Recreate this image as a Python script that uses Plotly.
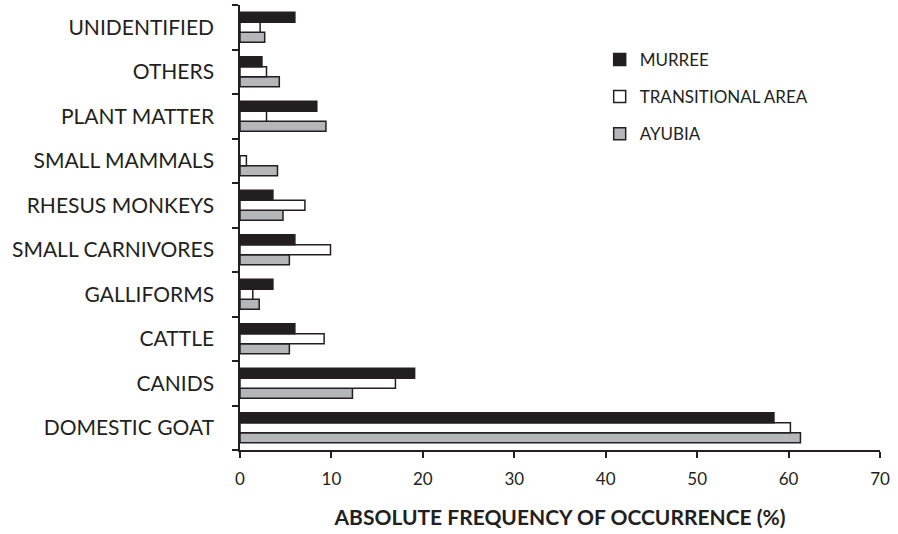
import plotly.graph_objects as go

# Diet categories, listed from the bottom of the chart to the top
categories = [
    "DOMESTIC GOAT", "CANIDS", "CATTLE", "GALLIFORMS", "SMALL CARNIVORES",
    "RHESUS MONKEYS", "SMALL MAMMALS", "PLANT MATTER", "OTHERS", "UNIDENTIFIED",
]

# Absolute frequency of occurrence (%) per study area (None = not recorded)
murree = [58.4, 19.1, 6.0, 3.6, 6.0, 3.6, None, 8.4, 2.4, 6.0]
transitional = [60.2, 17.0, 9.2, 1.4, 9.9, 7.1, 0.7, 2.9, 2.9, 2.2]
ayubia = [61.3, 12.3, 5.4, 2.1, 5.4, 4.7, 4.1, 9.4, 4.3, 2.7]

x_ticks = [0, 10, 20, 30, 40, 50, 60, 70]

DARK = "#231f20"
GREY = "#b5b6b9"
FONT = "Lato"

fig = go.Figure()

# Plotly stacks grouped horizontal bars bottom-up, so Ayubia goes first
series = [
    ("AYUBIA", ayubia, GREY, 3),
    ("TRANSITIONAL AREA", transitional, "#ffffff", 2),
    ("MURREE", murree, DARK, 1),
]
for name, vals, color, rank in series:
    fig.add_trace(go.Bar(
        y=categories, x=vals, name=name, orientation="h",
        marker=dict(color=color, line=dict(color=DARK, width=1.5)),
        legendgroup=name, legendrank=rank,
    ))

fig.update_layout(
    width=898, height=534,
    margin=dict(l=240, r=18, t=5, b=84),
    paper_bgcolor="white", plot_bgcolor="white",
    barmode="group", bargap=0.33, bargroupgap=0,
    font=dict(family=FONT, color=DARK),
    showlegend=True,
    legend=dict(
        x=0.562, y=0.917, xanchor="left", yanchor="top",
        font=dict(family=FONT, size=17, color=DARK),
        traceorder="grouped", tracegroupgap=12,
        itemwidth=30, bgcolor="rgba(0,0,0,0)",
    ),
    xaxis=dict(
        range=[0, 70], tickvals=x_ticks,
        showline=True, linecolor=DARK, linewidth=1.5,
        ticks="outside", ticklen=6, tickcolor=DARK, tickwidth=1.5,
        ticklabelstandoff=7,
        showgrid=False, zeroline=False,
        tickfont=dict(family=FONT, size=17, color=DARK),
        title=dict(text="<b>ABSOLUTE FREQUENCY OF OCCURRENCE (%)</b>",
                   font=dict(family=FONT, size=21, color=DARK), standoff=22),
    ),
    yaxis=dict(
        type="category", categoryorder="array", categoryarray=categories,
        showline=True, linecolor=DARK, linewidth=1.5,
        ticks="outside", ticklen=6, tickcolor=DARK, tickwidth=1.5,
        tickson="boundaries", ticklabelstandoff=20,
        showgrid=False, zeroline=False,
        tickfont=dict(family=FONT, size=21, color=DARK),
    ),
)

fig.write_html("out.html")
